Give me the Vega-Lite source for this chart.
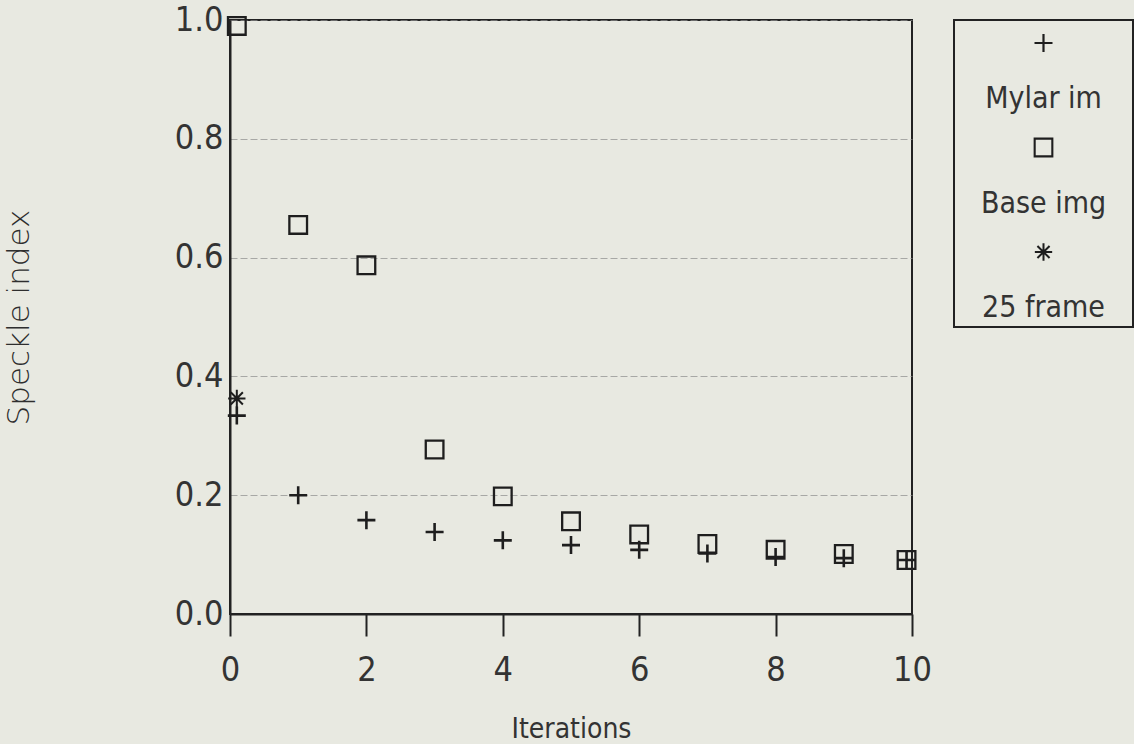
{
  "$schema": "https://vega.github.io/schema/vega-lite/v6.json",
  "background": "#e8e9e1",
  "padding": {"left": 2, "top": 2, "right": 0, "bottom": 0},
  "spacing": 42,
  "bounds": "flush",
  "datasets": {
    "points": [
      {"series": "Mylar im", "iteration": 0.1, "speckle": 0.334},
      {"series": "Mylar im", "iteration": 1, "speckle": 0.2},
      {"series": "Mylar im", "iteration": 2, "speckle": 0.158},
      {"series": "Mylar im", "iteration": 3, "speckle": 0.138},
      {"series": "Mylar im", "iteration": 4, "speckle": 0.124},
      {"series": "Mylar im", "iteration": 5, "speckle": 0.116},
      {"series": "Mylar im", "iteration": 6, "speckle": 0.108},
      {"series": "Mylar im", "iteration": 7, "speckle": 0.102},
      {"series": "Mylar im", "iteration": 8, "speckle": 0.096},
      {"series": "Mylar im", "iteration": 9, "speckle": 0.094},
      {"series": "Mylar im", "iteration": 9.92, "speckle": 0.091},
      {"series": "Base img", "iteration": 0.1, "speckle": 0.99},
      {"series": "Base img", "iteration": 1, "speckle": 0.655},
      {"series": "Base img", "iteration": 2, "speckle": 0.587},
      {"series": "Base img", "iteration": 3, "speckle": 0.277},
      {"series": "Base img", "iteration": 4, "speckle": 0.198},
      {"series": "Base img", "iteration": 5, "speckle": 0.156},
      {"series": "Base img", "iteration": 6, "speckle": 0.134},
      {"series": "Base img", "iteration": 7, "speckle": 0.118},
      {"series": "Base img", "iteration": 8, "speckle": 0.108},
      {"series": "Base img", "iteration": 9, "speckle": 0.101},
      {"series": "Base img", "iteration": 9.92, "speckle": 0.091},
      {"series": "25 frame", "iteration": 0.1, "speckle": 0.363}
    ],
    "legend": [
      {"series": "Mylar im"},
      {"series": "Base img"},
      {"series": "25 frame"}
    ]
  },
  "config": {
    "view": {"stroke": "#222222", "strokeWidth": 2},
    "font": "DejaVu Sans Condensed, Roboto Condensed, Liberation Sans Narrow, Roboto, sans-serif"
  },
  "hconcat": [
    {
      "width": 682,
      "height": 594,
      "data": {"name": "points"},
      "mark": {"type": "point", "filled": false, "stroke": "#1e1e1e", "opacity": 1},
      "encoding": {
        "x": {
          "field": "iteration",
          "type": "quantitative",
          "scale": {"domain": [0, 10], "nice": false, "zero": false},
          "axis": {
            "values": [0, 2, 4, 6, 8, 10],
            "format": "d",
            "title": "Iterations",
            "grid": false,
            "domain": true,
            "domainColor": "#222222",
            "domainWidth": 2,
            "ticks": true,
            "tickSize": 22,
            "tickWidth": 2,
            "tickColor": "#222222",
            "labelFont": "DejaVu Sans Condensed, Roboto Condensed, Liberation Sans Narrow, Roboto, sans-serif",
            "labelFontSize": 34,
            "labelFontWeight": 300,
            "labelColor": "#333333",
            "labelPadding": 17,
            "labelFlush": false,
            "labelOverlap": false,
            "titleFont": "DejaVu Sans Condensed, Roboto Condensed, Liberation Sans Narrow, Roboto, sans-serif",
            "titleFontSize": 28,
            "titleFontWeight": 300,
            "titleColor": "#333333",
            "titlePadding": 28
          }
        },
        "y": {
          "field": "speckle",
          "type": "quantitative",
          "scale": {"domain": [0, 1], "nice": false},
          "axis": {
            "values": [0, 0.2, 0.4, 0.6, 0.8, 1.0],
            "format": ".1f",
            "title": "Speckle index",
            "grid": true,
            "gridColor": "#8c8c8c",
            "gridDash": [7, 3],
            "gridWidth": 1,
            "gridOpacity": 0.7,
            "domain": true,
            "domainColor": "#222222",
            "domainWidth": 2,
            "ticks": false,
            "labelFont": "DejaVu Sans Condensed, Roboto Condensed, Liberation Sans Narrow, Roboto, sans-serif",
            "labelFontSize": 34,
            "labelFontWeight": 300,
            "labelColor": "#333333",
            "labelPadding": 7,
            "labelFlush": false,
            "labelOverlap": false,
            "titleFont": "DejaVu Sans",
            "titleFontSize": 31,
            "titleFontWeight": 300,
            "titleColor": "#2e2e2e",
            "titlePadding": 139
          }
        },
        "shape": {
          "field": "series",
          "type": "nominal",
          "scale": {
            "domain": ["Mylar im", "Base img", "25 frame"],
            "range": ["M-1,0H1M0,-1V1", "square", "M-1,0H1M0,-1V1M-0.7,-0.7L0.7,0.7M-0.7,0.7L0.7,-0.7"]
          },
          "legend": null
        },
        "size": {
          "field": "series",
          "type": "nominal",
          "scale": {"domain": ["Mylar im", "Base img", "25 frame"], "range": [324, 300, 30]},
          "legend": null
        },
        "strokeWidth": {
          "field": "series",
          "type": "nominal",
          "scale": {"domain": ["Mylar im", "Base img", "25 frame"], "range": [2.6, 2, 1.6]},
          "legend": null
        }
      }
    },
    {
      "width": 179,
      "height": 307,
      "data": {"name": "legend"},
      "encoding": {
        "y": {
          "field": "series",
          "type": "nominal",
          "sort": null,
          "scale": {"type": "point", "domain": ["Mylar im", "Base img", "25 frame"], "range": [23, 232], "padding": 0},
          "axis": null
        }
      },
      "layer": [
        {
          "mark": {"type": "point", "filled": false, "stroke": "#1e1e1e", "opacity": 1},
          "encoding": {
            "shape": {
              "field": "series",
              "type": "nominal",
              "scale": {
                "domain": ["Mylar im", "Base img", "25 frame"],
                "range": ["M-1,0H1M0,-1V1", "square", "M-1,0H1M0,-1V1M-0.7,-0.7L0.7,0.7M-0.7,0.7L0.7,-0.7"]
              },
              "legend": null
            },
            "size": {
              "field": "series",
              "type": "nominal",
              "scale": {"domain": ["Mylar im", "Base img", "25 frame"], "range": [324, 300, 30]},
              "legend": null
            },
            "strokeWidth": {
              "field": "series",
              "type": "nominal",
              "scale": {"domain": ["Mylar im", "Base img", "25 frame"], "range": [2.2, 2, 1.6]},
              "legend": null
            }
          }
        },
        {
          "mark": {"type": "text", "font": "DejaVu Sans Condensed, Roboto Condensed, Liberation Sans Narrow, Roboto, sans-serif", "fontSize": 30, "fontWeight": 300, "color": "#333333", "baseline": "middle", "align": "center", "dy": 56},
          "encoding": {
            "text": {"field": "series", "type": "nominal"}
          }
        }
      ]
    }
  ],
  "resolve": {"scale": {"shape": "independent", "size": "independent", "strokeWidth": "independent", "y": "independent"}}
}
